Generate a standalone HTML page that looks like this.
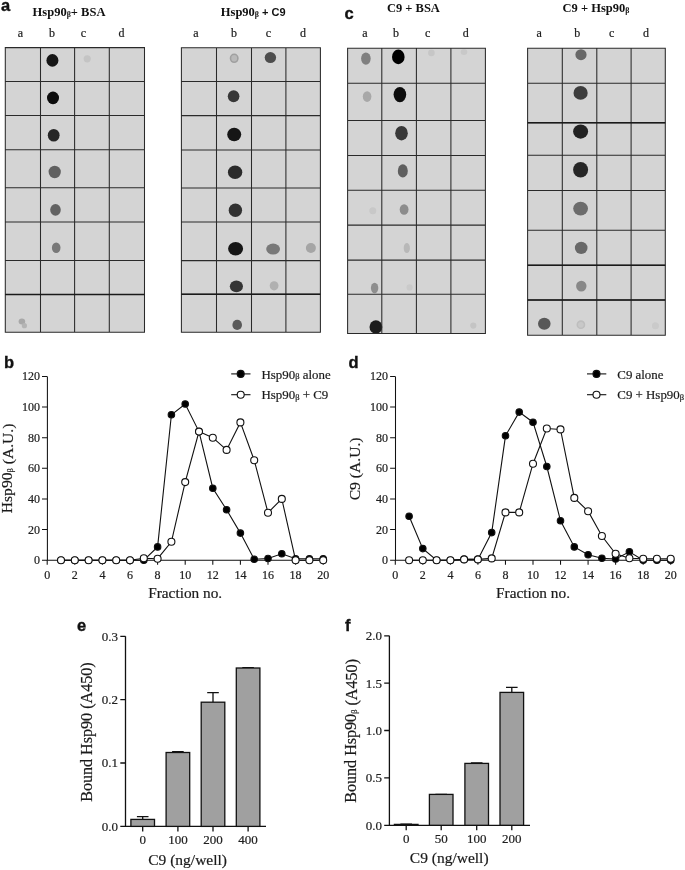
<!DOCTYPE html>
<html><head><meta charset="utf-8"><title>Figure</title>
<style>html,body{margin:0;padding:0;background:#fff;width:685px;height:870px;overflow:hidden}svg{display:block;will-change:transform}</style>
</head><body>
<svg width="685" height="870" viewBox="0 0 685 870">
<style>.t{stroke:#1a1a1a;stroke-width:0.2px}</style>
<rect width="685" height="870" fill="#fff"/>
<text class="p" x="1" y="11" font-family='"Liberation Sans", sans-serif' font-size="16.5" font-weight="bold" text-anchor="start" fill="#111" stroke="#111" stroke-width="0.35">a</text>
<text class="p" x="344.5" y="18.6" font-family='"Liberation Sans", sans-serif' font-size="16.5" font-weight="bold" text-anchor="start" fill="#111" stroke="#111" stroke-width="0.35">c</text>
<text class="p" x="4" y="367.5" font-family='"Liberation Sans", sans-serif' font-size="16.5" font-weight="bold" text-anchor="start" fill="#111" stroke="#111" stroke-width="0.35">b</text>
<text class="p" x="348.5" y="367.5" font-family='"Liberation Sans", sans-serif' font-size="16.5" font-weight="bold" text-anchor="start" fill="#111" stroke="#111" stroke-width="0.35">d</text>
<text class="p" x="77" y="631.4" font-family='"Liberation Sans", sans-serif' font-size="16.5" font-weight="bold" text-anchor="start" fill="#111" stroke="#111" stroke-width="0.35">e</text>
<text class="p" x="345" y="631.4" font-family='"Liberation Sans", sans-serif' font-size="16.5" font-weight="bold" text-anchor="start" fill="#111" stroke="#111" stroke-width="0.35">f</text>
<text x="32.6" y="16.4" font-family='"Liberation Serif", serif' font-size="12.5" font-weight="bold" fill="#111">Hsp90<tspan font-size="8" dy="1">β</tspan><tspan dy="-1">+ BSA</tspan></text>
<text x="220.8" y="15.5" font-family='"Liberation Serif", serif' font-size="12.5" font-weight="bold" fill="#111">Hsp90<tspan font-size="8" dy="1">β</tspan><tspan dy="-1" font-family='"Liberation Sans", sans-serif' font-size="11"> + C9</tspan></text>
<text x="386.9" y="12.3" font-family='"Liberation Serif", serif' font-size="12.5" font-weight="bold" fill="#111">C9 + BSA</text>
<text x="562.6" y="11.7" font-family='"Liberation Serif", serif' font-size="12.5" font-weight="bold" fill="#111">C9 + Hsp90<tspan font-size="8" dy="1">β</tspan></text>
<text class="t" x="20.3" y="37.2" font-family='"Liberation Serif", serif' font-size="12" font-weight="normal" text-anchor="middle" fill="#222" >a</text>
<text class="t" x="51.9" y="37.2" font-family='"Liberation Serif", serif' font-size="12" font-weight="normal" text-anchor="middle" fill="#222" >b</text>
<text class="t" x="83.4" y="37.2" font-family='"Liberation Serif", serif' font-size="12" font-weight="normal" text-anchor="middle" fill="#222" >c</text>
<text class="t" x="121.5" y="37.2" font-family='"Liberation Serif", serif' font-size="12" font-weight="normal" text-anchor="middle" fill="#222" >d</text>
<text class="t" x="196" y="37.2" font-family='"Liberation Serif", serif' font-size="12" font-weight="normal" text-anchor="middle" fill="#222" >a</text>
<text class="t" x="234.1" y="37.2" font-family='"Liberation Serif", serif' font-size="12" font-weight="normal" text-anchor="middle" fill="#222" >b</text>
<text class="t" x="268.4" y="37.2" font-family='"Liberation Serif", serif' font-size="12" font-weight="normal" text-anchor="middle" fill="#222" >c</text>
<text class="t" x="303" y="37.2" font-family='"Liberation Serif", serif' font-size="12" font-weight="normal" text-anchor="middle" fill="#222" >d</text>
<text class="t" x="365" y="37.2" font-family='"Liberation Serif", serif' font-size="12" font-weight="normal" text-anchor="middle" fill="#222" >a</text>
<text class="t" x="396.1" y="37.2" font-family='"Liberation Serif", serif' font-size="12" font-weight="normal" text-anchor="middle" fill="#222" >b</text>
<text class="t" x="427.6" y="37.2" font-family='"Liberation Serif", serif' font-size="12" font-weight="normal" text-anchor="middle" fill="#222" >c</text>
<text class="t" x="465.7" y="37.2" font-family='"Liberation Serif", serif' font-size="12" font-weight="normal" text-anchor="middle" fill="#222" >d</text>
<text class="t" x="539.2" y="37.2" font-family='"Liberation Serif", serif' font-size="12" font-weight="normal" text-anchor="middle" fill="#222" >a</text>
<text class="t" x="577.2" y="37.2" font-family='"Liberation Serif", serif' font-size="12" font-weight="normal" text-anchor="middle" fill="#222" >b</text>
<text class="t" x="611.6" y="37.2" font-family='"Liberation Serif", serif' font-size="12" font-weight="normal" text-anchor="middle" fill="#222" >c</text>
<text class="t" x="646.1" y="37.2" font-family='"Liberation Serif", serif' font-size="12" font-weight="normal" text-anchor="middle" fill="#222" >d</text>
<defs><filter id="bl" x="-50%" y="-50%" width="200%" height="200%"><feGaussianBlur stdDeviation="0.6"/></filter><filter id="bl2" x="-50%" y="-50%" width="200%" height="200%"><feGaussianBlur stdDeviation="1.2"/></filter></defs>
<rect x="5.3" y="47.6" width="139.2" height="284.59999999999997" fill="#d4d4d4"/>
<rect x="181.4" y="47.7" width="138.99999999999997" height="284.6" fill="#d4d4d4"/>
<rect x="347.6" y="48.3" width="137.79999999999995" height="285.09999999999997" fill="#d4d4d4"/>
<rect x="527.6" y="48.3" width="137.69999999999993" height="286.9" fill="#d4d4d4"/>
<g filter="url(#bl)">
<ellipse cx="52.4" cy="60.4" rx="6.00" ry="6.30" fill="rgb(24,24,24)"/>
<ellipse cx="87.2" cy="58.8" rx="3.60" ry="3.60" fill="rgb(196,196,196)"/>
<ellipse cx="53.0" cy="97.9" rx="6.00" ry="6.30" fill="rgb(12,12,12)"/>
<ellipse cx="53.7" cy="135.2" rx="5.90" ry="6.30" fill="rgb(40,40,40)"/>
<ellipse cx="54.7" cy="172.0" rx="6.10" ry="6.20" fill="rgb(96,96,96)"/>
<ellipse cx="55.5" cy="209.8" rx="5.30" ry="5.90" fill="rgb(98,98,98)"/>
<ellipse cx="56.2" cy="247.7" rx="4.30" ry="5.30" fill="rgb(120,120,120)"/>
<ellipse cx="21.9" cy="321.4" rx="3.30" ry="3.00" fill="rgb(168,168,168)"/>
<ellipse cx="24.4" cy="325.7" rx="2.60" ry="2.60" fill="rgb(180,180,180)"/>
<ellipse cx="270.4" cy="57.6" rx="5.70" ry="5.50" fill="rgb(78,78,78)"/>
<ellipse cx="233.6" cy="96.2" rx="5.80" ry="6.00" fill="rgb(56,56,56)"/>
<ellipse cx="234.2" cy="134.5" rx="7.00" ry="6.80" fill="rgb(22,22,22)"/>
<ellipse cx="235.1" cy="172.2" rx="7.20" ry="6.80" fill="rgb(44,44,44)"/>
<ellipse cx="235.4" cy="210.2" rx="6.70" ry="6.80" fill="rgb(50,50,50)"/>
<ellipse cx="235.6" cy="248.8" rx="7.50" ry="6.70" fill="rgb(24,24,24)"/>
<ellipse cx="273.1" cy="249.1" rx="6.90" ry="5.50" fill="rgb(120,120,120)"/>
<ellipse cx="310.9" cy="248.0" rx="5.00" ry="5.00" fill="rgb(165,165,165)"/>
<ellipse cx="236.4" cy="286.3" rx="6.60" ry="5.90" fill="rgb(54,54,54)"/>
<ellipse cx="274.1" cy="285.8" rx="4.40" ry="4.60" fill="rgb(176,176,176)"/>
<ellipse cx="237.2" cy="324.9" rx="4.80" ry="5.10" fill="rgb(90,90,90)"/>
<ellipse cx="365.9" cy="58.6" rx="4.80" ry="6.10" fill="rgb(128,128,128)"/>
<ellipse cx="398.3" cy="56.9" rx="6.30" ry="7.30" fill="rgb(6,6,6)"/>
<ellipse cx="431.4" cy="52.9" rx="3.30" ry="3.30" fill="rgb(198,198,198)"/>
<ellipse cx="464.0" cy="52.0" rx="3.30" ry="2.90" fill="rgb(200,200,200)"/>
<ellipse cx="367.1" cy="96.6" rx="4.30" ry="5.30" fill="rgb(168,168,168)"/>
<ellipse cx="399.9" cy="94.6" rx="6.30" ry="7.70" fill="rgb(10,10,10)"/>
<ellipse cx="401.5" cy="133.2" rx="6.30" ry="7.30" fill="rgb(56,56,56)"/>
<ellipse cx="402.8" cy="170.9" rx="5.00" ry="6.60" fill="rgb(94,94,94)"/>
<ellipse cx="404.1" cy="209.5" rx="4.40" ry="5.30" fill="rgb(140,140,140)"/>
<ellipse cx="372.8" cy="210.8" rx="3.50" ry="3.50" fill="rgb(200,200,200)"/>
<ellipse cx="406.8" cy="248.1" rx="3.10" ry="5.00" fill="rgb(184,184,184)"/>
<ellipse cx="374.6" cy="288.0" rx="3.70" ry="5.20" fill="rgb(142,142,142)"/>
<ellipse cx="409.6" cy="287.4" rx="3.10" ry="3.10" fill="rgb(202,202,202)"/>
<ellipse cx="375.9" cy="327.0" rx="6.40" ry="6.80" fill="rgb(30,30,30)"/>
<ellipse cx="473.3" cy="325.6" rx="3.10" ry="3.10" fill="rgb(196,196,196)"/>
<ellipse cx="581.0" cy="54.7" rx="5.60" ry="5.50" fill="rgb(104,104,104)"/>
<ellipse cx="580.6" cy="92.9" rx="7.10" ry="6.90" fill="rgb(62,62,62)"/>
<ellipse cx="580.6" cy="131.6" rx="7.50" ry="7.10" fill="rgb(36,36,36)"/>
<ellipse cx="580.6" cy="169.8" rx="7.50" ry="7.80" fill="rgb(40,40,40)"/>
<ellipse cx="580.6" cy="208.6" rx="7.40" ry="6.90" fill="rgb(108,108,108)"/>
<ellipse cx="581.2" cy="247.9" rx="6.30" ry="6.20" fill="rgb(104,104,104)"/>
<ellipse cx="581.3" cy="286.1" rx="5.20" ry="5.40" fill="rgb(136,136,136)"/>
<ellipse cx="544.3" cy="323.7" rx="6.30" ry="6.00" fill="rgb(88,88,88)"/>
<ellipse cx="655.4" cy="325.8" rx="3.50" ry="3.50" fill="rgb(202,202,202)"/>
<ellipse cx="234.2" cy="58.3" rx="3.7" ry="4.0" fill="rgb(185,185,185)" stroke="rgb(160,160,160)" stroke-width="1.6"/>
<ellipse cx="580.9" cy="324.7" rx="3.6" ry="3.6" fill="rgb(200,200,200)" stroke="rgb(190,190,190)" stroke-width="1.6"/>
</g>
<path d="M5.3 47.6V332.2M40.5 47.6V332.2M74.6 47.6V332.2M109.3 47.6V332.2M144.5 47.6V332.2M5.3 47.6H144.5M5.3 81.4H144.5M5.3 115.5H144.5M5.3 149.8H144.5M5.3 187.8H144.5M5.3 221.9H144.5M5.3 260.4H144.5M5.3 294.4H144.5M5.3 332.2H144.5" stroke="#2a2a2a" stroke-width="1.05" fill="none" stroke-linecap="square"/>
<path d="M181.4 47.7V332.3M216.5 47.7V332.3M251.5 47.7V332.3M285.9 47.7V332.3M320.4 47.7V332.3M181.4 47.7H320.4M181.4 81.4H320.4M181.4 115.6H320.4M181.4 150.0H320.4M181.4 187.9H320.4M181.4 221.9H320.4M181.4 260.6H320.4M181.4 294.3H320.4M181.4 332.3H320.4" stroke="#2a2a2a" stroke-width="1.05" fill="none" stroke-linecap="square"/>
<path d="M347.6 48.3V333.4M381.8 48.3V333.4M416.4 48.3V333.4M450.9 48.3V333.4M485.4 48.3V333.4M347.6 48.3H485.4M347.6 83.2H485.4M347.6 120.5H485.4M347.6 155.4H485.4M347.6 190.3H485.4M347.6 225.1H485.4M347.6 260.1H485.4M347.6 294.3H485.4M347.6 333.4H485.4" stroke="#2a2a2a" stroke-width="1.05" fill="none" stroke-linecap="square"/>
<path d="M527.6 48.3V335.2M562.3 48.3V335.2M596.8 48.3V335.2M631.1 48.3V335.2M665.3 48.3V335.2M527.6 48.3H665.3M527.6 83.2H665.3M527.6 122.8H665.3M527.6 155.3H665.3M527.6 190.4H665.3M527.6 230.2H665.3M527.6 265.2H665.3M527.6 300.0H665.3M527.6 335.2H665.3" stroke="#2a2a2a" stroke-width="1.05" fill="none" stroke-linecap="square"/>
<path d="M5.3 294.4H144.5" stroke="#1a1a1a" stroke-width="1.5"/>
<path d="M181.4 294.3H320.4" stroke="#1a1a1a" stroke-width="1.5"/>
<path d="M527.6 265.2H665.3" stroke="#1a1a1a" stroke-width="1.5"/>
<path d="M527.6 300.0H665.3" stroke="#1a1a1a" stroke-width="1.5"/>
<path d="M527.6 122.8H665.3" stroke="#1a1a1a" stroke-width="1.5"/>
<path d="M47.400000000000006 376.4200000000001V560.2H323.2" stroke="#111" stroke-width="1.05" fill="none"/>
<path d="M42.0 560.2H47.2M42.0 529.57H47.2M42.0 498.94000000000005H47.2M42.0 468.31000000000006H47.2M42.0 437.68000000000006H47.2M42.0 407.05000000000007H47.2M42.0 376.4200000000001H47.2M47.2 560.2V564.8000000000001M74.80000000000001 560.2V564.8000000000001M102.4 560.2V564.8000000000001M130.0 560.2V564.8000000000001M157.60000000000002 560.2V564.8000000000001M185.2 560.2V564.8000000000001M212.8 560.2V564.8000000000001M240.40000000000003 560.2V564.8000000000001M268.0 560.2V564.8000000000001M295.6 560.2V564.8000000000001M323.2 560.2V564.8000000000001" stroke="#111" stroke-width="1.05" fill="none"/>
<text class="t" x="40.0" y="564.2" font-family='"Liberation Serif", serif' font-size="12" font-weight="normal" text-anchor="end" fill="#222" >0</text>
<text class="t" x="40.0" y="533.6" font-family='"Liberation Serif", serif' font-size="12" font-weight="normal" text-anchor="end" fill="#222" >20</text>
<text class="t" x="40.0" y="502.9" font-family='"Liberation Serif", serif' font-size="12" font-weight="normal" text-anchor="end" fill="#222" >40</text>
<text class="t" x="40.0" y="472.3" font-family='"Liberation Serif", serif' font-size="12" font-weight="normal" text-anchor="end" fill="#222" >60</text>
<text class="t" x="40.0" y="441.7" font-family='"Liberation Serif", serif' font-size="12" font-weight="normal" text-anchor="end" fill="#222" >80</text>
<text class="t" x="40.0" y="411.1" font-family='"Liberation Serif", serif' font-size="12" font-weight="normal" text-anchor="end" fill="#222" >100</text>
<text class="t" x="40.0" y="380.4" font-family='"Liberation Serif", serif' font-size="12" font-weight="normal" text-anchor="end" fill="#222" >120</text>
<text class="t" x="47.2" y="578.8" font-family='"Liberation Serif", serif' font-size="12" font-weight="normal" text-anchor="middle" fill="#222" >0</text>
<text class="t" x="74.8" y="578.8" font-family='"Liberation Serif", serif' font-size="12" font-weight="normal" text-anchor="middle" fill="#222" >2</text>
<text class="t" x="102.4" y="578.8" font-family='"Liberation Serif", serif' font-size="12" font-weight="normal" text-anchor="middle" fill="#222" >4</text>
<text class="t" x="130.0" y="578.8" font-family='"Liberation Serif", serif' font-size="12" font-weight="normal" text-anchor="middle" fill="#222" >6</text>
<text class="t" x="157.6" y="578.8" font-family='"Liberation Serif", serif' font-size="12" font-weight="normal" text-anchor="middle" fill="#222" >8</text>
<text class="t" x="185.2" y="578.8" font-family='"Liberation Serif", serif' font-size="12" font-weight="normal" text-anchor="middle" fill="#222" >10</text>
<text class="t" x="212.8" y="578.8" font-family='"Liberation Serif", serif' font-size="12" font-weight="normal" text-anchor="middle" fill="#222" >12</text>
<text class="t" x="240.4" y="578.8" font-family='"Liberation Serif", serif' font-size="12" font-weight="normal" text-anchor="middle" fill="#222" >14</text>
<text class="t" x="268.0" y="578.8" font-family='"Liberation Serif", serif' font-size="12" font-weight="normal" text-anchor="middle" fill="#222" >16</text>
<text class="t" x="295.6" y="578.8" font-family='"Liberation Serif", serif' font-size="12" font-weight="normal" text-anchor="middle" fill="#222" >18</text>
<text class="t" x="323.2" y="578.8" font-family='"Liberation Serif", serif' font-size="12" font-weight="normal" text-anchor="middle" fill="#222" >20</text>
<text class="t" x="185.2" y="598.2" font-family='"Liberation Serif", serif' font-size="15.3" font-weight="normal" text-anchor="middle" fill="#1a1a1a" >Fraction no.</text>
<text class="t" transform="translate(12.3 468.4) rotate(-90)" font-family='"Liberation Serif", serif' font-size="15.6" text-anchor="middle" fill="#1a1a1a">Hsp90<tspan font-size="8.5" dy="0.6">β</tspan><tspan dy="-0.6"></tspan> (A.U.)</text>
<polyline points="61.0,560.2 74.8,560.2 88.6,560.2 102.4,560.2 116.2,560.2 130.0,560.2 143.8,558.2 157.6,558.7 171.4,541.8 185.2,482.1 199.0,431.6 212.8,437.7 226.6,449.9 240.4,422.4 254.2,460.2 268.0,512.7 281.8,498.9 295.6,560.2 309.4,560.2 323.2,560.2" stroke="#111" stroke-width="1.1" fill="none"/>
<polyline points="61.0,560.2 74.8,560.2 88.6,560.2 102.4,560.2 116.2,560.2 130.0,560.2 143.8,560.2 157.6,546.9 171.4,414.7 185.2,404.0 199.0,431.6 212.8,488.2 226.6,509.7 240.4,533.1 254.2,559.3 268.0,558.5 281.8,553.8 295.6,558.7 309.4,558.7 323.2,558.7" stroke="#111" stroke-width="1.1" fill="none"/>
<circle cx="61.0" cy="560.2" r="3.25" fill="#000" stroke="#111" stroke-width="1.1"/>
<circle cx="74.8" cy="560.2" r="3.25" fill="#000" stroke="#111" stroke-width="1.1"/>
<circle cx="88.6" cy="560.2" r="3.25" fill="#000" stroke="#111" stroke-width="1.1"/>
<circle cx="102.4" cy="560.2" r="3.25" fill="#000" stroke="#111" stroke-width="1.1"/>
<circle cx="116.2" cy="560.2" r="3.25" fill="#000" stroke="#111" stroke-width="1.1"/>
<circle cx="130.0" cy="560.2" r="3.25" fill="#000" stroke="#111" stroke-width="1.1"/>
<circle cx="143.8" cy="560.2" r="3.25" fill="#000" stroke="#111" stroke-width="1.1"/>
<circle cx="157.6" cy="546.9" r="3.25" fill="#000" stroke="#111" stroke-width="1.1"/>
<circle cx="171.4" cy="414.7" r="3.25" fill="#000" stroke="#111" stroke-width="1.1"/>
<circle cx="185.2" cy="404.0" r="3.25" fill="#000" stroke="#111" stroke-width="1.1"/>
<circle cx="199.0" cy="431.6" r="3.25" fill="#000" stroke="#111" stroke-width="1.1"/>
<circle cx="212.8" cy="488.2" r="3.25" fill="#000" stroke="#111" stroke-width="1.1"/>
<circle cx="226.6" cy="509.7" r="3.25" fill="#000" stroke="#111" stroke-width="1.1"/>
<circle cx="240.4" cy="533.1" r="3.25" fill="#000" stroke="#111" stroke-width="1.1"/>
<circle cx="254.2" cy="559.3" r="3.25" fill="#000" stroke="#111" stroke-width="1.1"/>
<circle cx="268.0" cy="558.5" r="3.25" fill="#000" stroke="#111" stroke-width="1.1"/>
<circle cx="281.8" cy="553.8" r="3.25" fill="#000" stroke="#111" stroke-width="1.1"/>
<circle cx="295.6" cy="558.7" r="3.25" fill="#000" stroke="#111" stroke-width="1.1"/>
<circle cx="309.4" cy="558.7" r="3.25" fill="#000" stroke="#111" stroke-width="1.1"/>
<circle cx="323.2" cy="558.7" r="3.25" fill="#000" stroke="#111" stroke-width="1.1"/>
<circle cx="61.0" cy="560.2" r="3.5" fill="white" stroke="#111" stroke-width="1.1"/>
<circle cx="74.8" cy="560.2" r="3.5" fill="white" stroke="#111" stroke-width="1.1"/>
<circle cx="88.6" cy="560.2" r="3.5" fill="white" stroke="#111" stroke-width="1.1"/>
<circle cx="102.4" cy="560.2" r="3.5" fill="white" stroke="#111" stroke-width="1.1"/>
<circle cx="116.2" cy="560.2" r="3.5" fill="white" stroke="#111" stroke-width="1.1"/>
<circle cx="130.0" cy="560.2" r="3.5" fill="white" stroke="#111" stroke-width="1.1"/>
<circle cx="143.8" cy="558.2" r="3.5" fill="white" stroke="#111" stroke-width="1.1"/>
<circle cx="157.6" cy="558.7" r="3.5" fill="white" stroke="#111" stroke-width="1.1"/>
<circle cx="171.4" cy="541.8" r="3.5" fill="white" stroke="#111" stroke-width="1.1"/>
<circle cx="185.2" cy="482.1" r="3.5" fill="white" stroke="#111" stroke-width="1.1"/>
<circle cx="199.0" cy="431.6" r="3.5" fill="white" stroke="#111" stroke-width="1.1"/>
<circle cx="212.8" cy="437.7" r="3.5" fill="white" stroke="#111" stroke-width="1.1"/>
<circle cx="226.6" cy="449.9" r="3.5" fill="white" stroke="#111" stroke-width="1.1"/>
<circle cx="240.4" cy="422.4" r="3.5" fill="white" stroke="#111" stroke-width="1.1"/>
<circle cx="254.2" cy="460.2" r="3.5" fill="white" stroke="#111" stroke-width="1.1"/>
<circle cx="268.0" cy="512.7" r="3.5" fill="white" stroke="#111" stroke-width="1.1"/>
<circle cx="281.8" cy="498.9" r="3.5" fill="white" stroke="#111" stroke-width="1.1"/>
<circle cx="295.6" cy="560.2" r="3.5" fill="white" stroke="#111" stroke-width="1.1"/>
<circle cx="309.4" cy="560.2" r="3.5" fill="white" stroke="#111" stroke-width="1.1"/>
<circle cx="323.2" cy="560.2" r="3.5" fill="white" stroke="#111" stroke-width="1.1"/>
<path d="M231.2 373.9H250.5" stroke="#111" stroke-width="1.1"/>
<circle cx="240.7" cy="373.9" r="3.5" fill="#000" stroke="#111" stroke-width="1.1"/>
<text class="t" x="261.5" y="378.5" font-family='"Liberation Serif", serif' font-size="12.9" fill="#1a1a1a">Hsp90<tspan font-size="8.5" dy="0.6">β</tspan><tspan dy="-0.6"> alone</tspan></text>
<path d="M231.2 394.7H250.5" stroke="#111" stroke-width="1.1"/>
<circle cx="240.7" cy="394.7" r="3.5" fill="white" stroke="#111" stroke-width="1.1"/>
<text class="t" x="261.5" y="399.3" font-family='"Liberation Serif", serif' font-size="12.9" fill="#1a1a1a">Hsp90<tspan font-size="8.5" dy="0.6">β</tspan><tspan dy="-0.6"> + C9</tspan></text>
<path d="M395.5 376.4200000000001V560.2H670.7" stroke="#111" stroke-width="1.05" fill="none"/>
<path d="M390.1 560.2H395.3M390.1 529.57H395.3M390.1 498.94000000000005H395.3M390.1 468.31000000000006H395.3M390.1 437.68000000000006H395.3M390.1 407.05000000000007H395.3M390.1 376.4200000000001H395.3M395.3 560.2V564.8000000000001M422.84000000000003 560.2V564.8000000000001M450.38 560.2V564.8000000000001M477.92 560.2V564.8000000000001M505.46000000000004 560.2V564.8000000000001M533.0 560.2V564.8000000000001M560.54 560.2V564.8000000000001M588.08 560.2V564.8000000000001M615.62 560.2V564.8000000000001M643.16 560.2V564.8000000000001M670.7 560.2V564.8000000000001" stroke="#111" stroke-width="1.05" fill="none"/>
<text class="t" x="388.1" y="564.2" font-family='"Liberation Serif", serif' font-size="12" font-weight="normal" text-anchor="end" fill="#222" >0</text>
<text class="t" x="388.1" y="533.6" font-family='"Liberation Serif", serif' font-size="12" font-weight="normal" text-anchor="end" fill="#222" >20</text>
<text class="t" x="388.1" y="502.9" font-family='"Liberation Serif", serif' font-size="12" font-weight="normal" text-anchor="end" fill="#222" >40</text>
<text class="t" x="388.1" y="472.3" font-family='"Liberation Serif", serif' font-size="12" font-weight="normal" text-anchor="end" fill="#222" >60</text>
<text class="t" x="388.1" y="441.7" font-family='"Liberation Serif", serif' font-size="12" font-weight="normal" text-anchor="end" fill="#222" >80</text>
<text class="t" x="388.1" y="411.1" font-family='"Liberation Serif", serif' font-size="12" font-weight="normal" text-anchor="end" fill="#222" >100</text>
<text class="t" x="388.1" y="380.4" font-family='"Liberation Serif", serif' font-size="12" font-weight="normal" text-anchor="end" fill="#222" >120</text>
<text class="t" x="395.3" y="578.8" font-family='"Liberation Serif", serif' font-size="12" font-weight="normal" text-anchor="middle" fill="#222" >0</text>
<text class="t" x="422.8" y="578.8" font-family='"Liberation Serif", serif' font-size="12" font-weight="normal" text-anchor="middle" fill="#222" >2</text>
<text class="t" x="450.4" y="578.8" font-family='"Liberation Serif", serif' font-size="12" font-weight="normal" text-anchor="middle" fill="#222" >4</text>
<text class="t" x="477.9" y="578.8" font-family='"Liberation Serif", serif' font-size="12" font-weight="normal" text-anchor="middle" fill="#222" >6</text>
<text class="t" x="505.5" y="578.8" font-family='"Liberation Serif", serif' font-size="12" font-weight="normal" text-anchor="middle" fill="#222" >8</text>
<text class="t" x="533.0" y="578.8" font-family='"Liberation Serif", serif' font-size="12" font-weight="normal" text-anchor="middle" fill="#222" >10</text>
<text class="t" x="560.5" y="578.8" font-family='"Liberation Serif", serif' font-size="12" font-weight="normal" text-anchor="middle" fill="#222" >12</text>
<text class="t" x="588.1" y="578.8" font-family='"Liberation Serif", serif' font-size="12" font-weight="normal" text-anchor="middle" fill="#222" >14</text>
<text class="t" x="615.6" y="578.8" font-family='"Liberation Serif", serif' font-size="12" font-weight="normal" text-anchor="middle" fill="#222" >16</text>
<text class="t" x="643.2" y="578.8" font-family='"Liberation Serif", serif' font-size="12" font-weight="normal" text-anchor="middle" fill="#222" >18</text>
<text class="t" x="670.7" y="578.8" font-family='"Liberation Serif", serif' font-size="12" font-weight="normal" text-anchor="middle" fill="#222" >20</text>
<text class="t" x="533.0" y="598.2" font-family='"Liberation Serif", serif' font-size="15.3" font-weight="normal" text-anchor="middle" fill="#1a1a1a" >Fraction no.</text>
<text class="t" transform="translate(359.7 468.9) rotate(-90)" font-family='"Liberation Serif", serif' font-size="15.6" text-anchor="middle" fill="#1a1a1a">C9 (A.U.)</text>
<polyline points="409.1,560.2 422.8,560.2 436.6,560.2 450.4,560.2 464.1,559.4 477.9,559.4 491.7,558.4 505.5,512.4 519.2,512.4 533.0,463.7 546.8,428.5 560.5,429.4 574.3,497.9 588.1,511.2 601.9,536.0 615.6,553.8 629.4,558.2 643.2,558.7 656.9,558.7 670.7,558.7" stroke="#111" stroke-width="1.1" fill="none"/>
<polyline points="409.1,516.2 422.8,548.6 436.6,560.2 450.4,560.2 464.1,559.4 477.9,559.4 491.7,532.6 505.5,435.8 519.2,412.1 533.0,422.2 546.8,466.5 560.5,520.8 574.3,546.9 588.1,554.7 601.9,558.2 615.6,559.0 629.4,551.8 643.2,560.2 656.9,560.2 670.7,560.2" stroke="#111" stroke-width="1.1" fill="none"/>
<circle cx="409.1" cy="516.2" r="3.25" fill="#000" stroke="#111" stroke-width="1.1"/>
<circle cx="422.8" cy="548.6" r="3.25" fill="#000" stroke="#111" stroke-width="1.1"/>
<circle cx="436.6" cy="560.2" r="3.25" fill="#000" stroke="#111" stroke-width="1.1"/>
<circle cx="450.4" cy="560.2" r="3.25" fill="#000" stroke="#111" stroke-width="1.1"/>
<circle cx="464.1" cy="559.4" r="3.25" fill="#000" stroke="#111" stroke-width="1.1"/>
<circle cx="477.9" cy="559.4" r="3.25" fill="#000" stroke="#111" stroke-width="1.1"/>
<circle cx="491.7" cy="532.6" r="3.25" fill="#000" stroke="#111" stroke-width="1.1"/>
<circle cx="505.5" cy="435.8" r="3.25" fill="#000" stroke="#111" stroke-width="1.1"/>
<circle cx="519.2" cy="412.1" r="3.25" fill="#000" stroke="#111" stroke-width="1.1"/>
<circle cx="533.0" cy="422.2" r="3.25" fill="#000" stroke="#111" stroke-width="1.1"/>
<circle cx="546.8" cy="466.5" r="3.25" fill="#000" stroke="#111" stroke-width="1.1"/>
<circle cx="560.5" cy="520.8" r="3.25" fill="#000" stroke="#111" stroke-width="1.1"/>
<circle cx="574.3" cy="546.9" r="3.25" fill="#000" stroke="#111" stroke-width="1.1"/>
<circle cx="588.1" cy="554.7" r="3.25" fill="#000" stroke="#111" stroke-width="1.1"/>
<circle cx="601.9" cy="558.2" r="3.25" fill="#000" stroke="#111" stroke-width="1.1"/>
<circle cx="615.6" cy="559.0" r="3.25" fill="#000" stroke="#111" stroke-width="1.1"/>
<circle cx="629.4" cy="551.8" r="3.25" fill="#000" stroke="#111" stroke-width="1.1"/>
<circle cx="643.2" cy="560.2" r="3.25" fill="#000" stroke="#111" stroke-width="1.1"/>
<circle cx="656.9" cy="560.2" r="3.25" fill="#000" stroke="#111" stroke-width="1.1"/>
<circle cx="670.7" cy="560.2" r="3.25" fill="#000" stroke="#111" stroke-width="1.1"/>
<circle cx="409.1" cy="560.2" r="3.5" fill="white" stroke="#111" stroke-width="1.1"/>
<circle cx="422.8" cy="560.2" r="3.5" fill="white" stroke="#111" stroke-width="1.1"/>
<circle cx="436.6" cy="560.2" r="3.5" fill="white" stroke="#111" stroke-width="1.1"/>
<circle cx="450.4" cy="560.2" r="3.5" fill="white" stroke="#111" stroke-width="1.1"/>
<circle cx="464.1" cy="559.4" r="3.5" fill="white" stroke="#111" stroke-width="1.1"/>
<circle cx="477.9" cy="559.4" r="3.5" fill="white" stroke="#111" stroke-width="1.1"/>
<circle cx="491.7" cy="558.4" r="3.5" fill="white" stroke="#111" stroke-width="1.1"/>
<circle cx="505.5" cy="512.4" r="3.5" fill="white" stroke="#111" stroke-width="1.1"/>
<circle cx="519.2" cy="512.4" r="3.5" fill="white" stroke="#111" stroke-width="1.1"/>
<circle cx="533.0" cy="463.7" r="3.5" fill="white" stroke="#111" stroke-width="1.1"/>
<circle cx="546.8" cy="428.5" r="3.5" fill="white" stroke="#111" stroke-width="1.1"/>
<circle cx="560.5" cy="429.4" r="3.5" fill="white" stroke="#111" stroke-width="1.1"/>
<circle cx="574.3" cy="497.9" r="3.5" fill="white" stroke="#111" stroke-width="1.1"/>
<circle cx="588.1" cy="511.2" r="3.5" fill="white" stroke="#111" stroke-width="1.1"/>
<circle cx="601.9" cy="536.0" r="3.5" fill="white" stroke="#111" stroke-width="1.1"/>
<circle cx="615.6" cy="553.8" r="3.5" fill="white" stroke="#111" stroke-width="1.1"/>
<circle cx="629.4" cy="558.2" r="3.5" fill="white" stroke="#111" stroke-width="1.1"/>
<circle cx="643.2" cy="558.7" r="3.5" fill="white" stroke="#111" stroke-width="1.1"/>
<circle cx="656.9" cy="558.7" r="3.5" fill="white" stroke="#111" stroke-width="1.1"/>
<circle cx="670.7" cy="558.7" r="3.5" fill="white" stroke="#111" stroke-width="1.1"/>
<path d="M587.0 373.9H606.3" stroke="#111" stroke-width="1.1"/>
<circle cx="596.5" cy="373.9" r="3.5" fill="#000" stroke="#111" stroke-width="1.1"/>
<text class="t" x="617.3" y="378.5" font-family='"Liberation Serif", serif' font-size="12.9" fill="#1a1a1a">C9 alone</text>
<path d="M587.0 394.7H606.3" stroke="#111" stroke-width="1.1"/>
<circle cx="596.5" cy="394.7" r="3.5" fill="white" stroke="#111" stroke-width="1.1"/>
<text class="t" x="617.3" y="399.3" font-family='"Liberation Serif", serif' font-size="12.9" fill="#1a1a1a">C9 + Hsp90<tspan font-size="8.5" dy="0.6">β</tspan><tspan dy="-0.6"></tspan></text>
<path d="M125.5 636.29V826.4H266" stroke="#111" stroke-width="1.3" fill="none"/>
<path d="M120.3 826.4H125.5M120.3 763.0H125.5M120.3 699.7H125.5M120.3 636.3H125.5M142.7 826.4V831.4M177.9 826.4V831.4M213.0 826.4V831.4M248.1 826.4V831.4" stroke="#111" stroke-width="1.3" fill="none"/>
<text class="t" x="118.0" y="830.7" font-family='"Liberation Serif", serif' font-size="13" font-weight="normal" text-anchor="end" fill="#222" >0.0</text>
<text class="t" x="118.0" y="767.3" font-family='"Liberation Serif", serif' font-size="13" font-weight="normal" text-anchor="end" fill="#222" >0.1</text>
<text class="t" x="118.0" y="704.0" font-family='"Liberation Serif", serif' font-size="13" font-weight="normal" text-anchor="end" fill="#222" >0.2</text>
<text class="t" x="118.0" y="640.6" font-family='"Liberation Serif", serif' font-size="13" font-weight="normal" text-anchor="end" fill="#222" >0.3</text>
<text class="t" x="142.7" y="844.0" font-family='"Liberation Serif", serif' font-size="13" font-weight="normal" text-anchor="middle" fill="#222" >0</text>
<text class="t" x="177.9" y="844.0" font-family='"Liberation Serif", serif' font-size="13" font-weight="normal" text-anchor="middle" fill="#222" >100</text>
<text class="t" x="213.0" y="844.0" font-family='"Liberation Serif", serif' font-size="13" font-weight="normal" text-anchor="middle" fill="#222" >200</text>
<text class="t" x="248.1" y="844.0" font-family='"Liberation Serif", serif' font-size="13" font-weight="normal" text-anchor="middle" fill="#222" >400</text>
<path d="M142.7 819.4V816.6M136.89999999999998 816.6H148.5" stroke="#111" stroke-width="1.3"/>
<rect x="130.89999999999998" y="819.4" width="23.6" height="7.0" fill="#a0a0a0" stroke="#111" stroke-width="1.3"/>
<path d="M177.9 752.5V751.6M172.1 751.6H183.70000000000002" stroke="#111" stroke-width="1.3"/>
<rect x="166.1" y="752.5" width="23.6" height="73.9" fill="#a0a0a0" stroke="#111" stroke-width="1.3"/>
<path d="M213.0 702.2V692.7M207.2 692.7H218.8" stroke="#111" stroke-width="1.3"/>
<rect x="201.2" y="702.2" width="23.6" height="124.2" fill="#a0a0a0" stroke="#111" stroke-width="1.3"/>
<path d="M248.1 668.0V667.7M242.29999999999998 667.7H253.9" stroke="#111" stroke-width="1.3"/>
<rect x="236.29999999999998" y="668.0" width="23.6" height="158.4" fill="#a0a0a0" stroke="#111" stroke-width="1.3"/>
<text class="t" x="187.6" y="865" font-family='"Liberation Serif", serif' font-size="15.5" font-weight="normal" text-anchor="middle" fill="#1a1a1a" >C9 (ng/well)</text>
<text class="t" transform="translate(92.0 732.1) rotate(-90)" font-family='"Liberation Serif", serif' font-size="16.1" text-anchor="middle" fill="#1a1a1a">Bound Hsp90 (A450)</text>
<path d="M389.4 635.8V825.3H530" stroke="#111" stroke-width="1.3" fill="none"/>
<path d="M384.2 825.3H389.4M384.2 777.9H389.4M384.2 730.5H389.4M384.2 683.2H389.4M384.2 635.8H389.4M406.2 825.3V830.3M441.2 825.3V830.3M476.7 825.3V830.3M511.8 825.3V830.3" stroke="#111" stroke-width="1.3" fill="none"/>
<text class="t" x="381.9" y="829.6" font-family='"Liberation Serif", serif' font-size="13" font-weight="normal" text-anchor="end" fill="#222" >0.0</text>
<text class="t" x="381.9" y="782.2" font-family='"Liberation Serif", serif' font-size="13" font-weight="normal" text-anchor="end" fill="#222" >0.5</text>
<text class="t" x="381.9" y="734.8" font-family='"Liberation Serif", serif' font-size="13" font-weight="normal" text-anchor="end" fill="#222" >1.0</text>
<text class="t" x="381.9" y="687.5" font-family='"Liberation Serif", serif' font-size="13" font-weight="normal" text-anchor="end" fill="#222" >1.5</text>
<text class="t" x="381.9" y="640.1" font-family='"Liberation Serif", serif' font-size="13" font-weight="normal" text-anchor="end" fill="#222" >2.0</text>
<text class="t" x="406.2" y="842.8" font-family='"Liberation Serif", serif' font-size="13" font-weight="normal" text-anchor="middle" fill="#222" >0</text>
<text class="t" x="441.2" y="842.8" font-family='"Liberation Serif", serif' font-size="13" font-weight="normal" text-anchor="middle" fill="#222" >50</text>
<text class="t" x="476.7" y="842.8" font-family='"Liberation Serif", serif' font-size="13" font-weight="normal" text-anchor="middle" fill="#222" >100</text>
<text class="t" x="511.8" y="842.8" font-family='"Liberation Serif", serif' font-size="13" font-weight="normal" text-anchor="middle" fill="#222" >200</text>
<path d="M406.2 824.4V824.2M400.4 824.2H412.0" stroke="#111" stroke-width="1.3"/>
<rect x="394.4" y="824.4" width="23.6" height="0.9" fill="#a0a0a0" stroke="#111" stroke-width="1.3"/>
<path d="M441.2 794.4V794.3M435.4 794.3H447.0" stroke="#111" stroke-width="1.3"/>
<rect x="429.4" y="794.4" width="23.6" height="30.9" fill="#a0a0a0" stroke="#111" stroke-width="1.3"/>
<path d="M476.7 763.4V762.8M470.9 762.8H482.5" stroke="#111" stroke-width="1.3"/>
<rect x="464.9" y="763.4" width="23.6" height="61.9" fill="#a0a0a0" stroke="#111" stroke-width="1.3"/>
<path d="M511.8 692.4V687.4M506.0 687.4H517.6" stroke="#111" stroke-width="1.3"/>
<rect x="500.0" y="692.4" width="23.6" height="132.9" fill="#a0a0a0" stroke="#111" stroke-width="1.3"/>
<text class="t" x="449.2" y="862.6" font-family='"Liberation Serif", serif' font-size="15.5" font-weight="normal" text-anchor="middle" fill="#1a1a1a" >C9 (ng/well)</text>
<text class="t" transform="translate(356.0 730.9) rotate(-90)" font-family='"Liberation Serif", serif' font-size="16.1" text-anchor="middle" fill="#1a1a1a">Bound Hsp90<tspan font-size="8.5" dy="0.6">β</tspan><tspan dy="-0.6"></tspan> (A450)</text>
</svg>
</body></html>
